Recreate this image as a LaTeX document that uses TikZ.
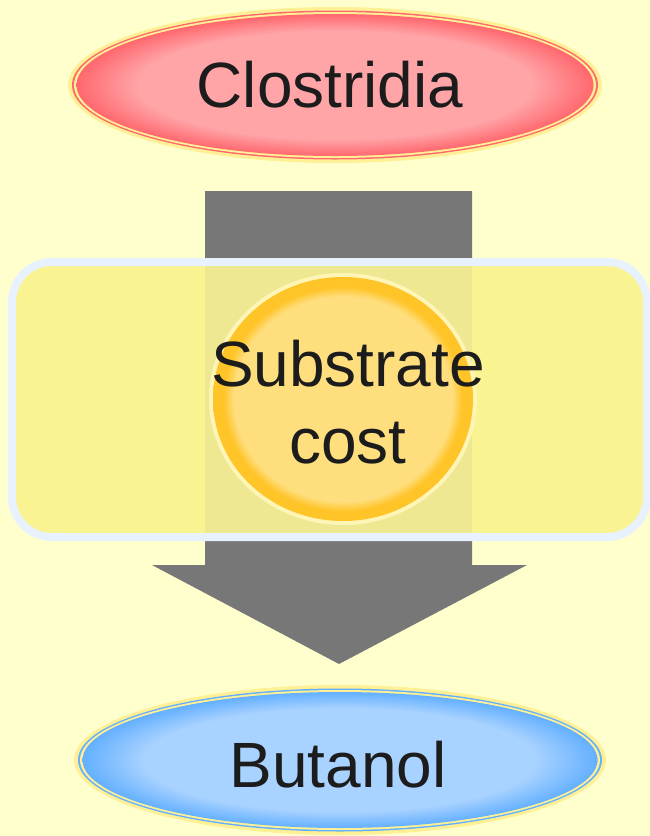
\documentclass[tikz,border=0pt]{standalone}
\usepackage{fontspec}
\setmainfont{Liberation Sans}
\definecolor{bgcream}{RGB}{255,255,206}
\definecolor{arrowgray}{RGB}{119,119,119}
\definecolor{glowyellow}{RGB}{255,240,150}
\definecolor{redrim}{RGB}{255,104,110}
\definecolor{redcore}{RGB}{255,165,168}
\definecolor{bluerim}{RGB}{100,176,255}
\definecolor{bluecore}{RGB}{168,210,255}
\definecolor{boxfill}{RGB}{250,243,145}
\definecolor{boxedge}{RGB}{232,242,255}
\definecolor{shaftfill}{RGB}{238,232,146}
\definecolor{orangering}{RGB}{255,196,40}
\definecolor{orangecore}{RGB}{255,222,125}
\definecolor{inktext}{RGB}{28,28,28}
% glossy fills: flat core, darker rim
\pgfdeclareradialshading{redglass}{\pgfpoint{0bp}{0bp}}{color(0bp)=(redcore); color(19bp)=(redcore); color(25bp)=(redrim); color(50bp)=(redrim)}
\pgfdeclareradialshading{blueglass}{\pgfpoint{0bp}{0bp}}{color(0bp)=(bluecore); color(19bp)=(bluecore); color(25bp)=(bluerim); color(50bp)=(bluerim)}
\pgfdeclareradialshading{orangeglass}{\pgfpoint{0bp}{0bp}}{color(0bp)=(orangecore); color(21bp)=(orangecore); color(23bp)=(orangering); color(50bp)=(orangering)}
\tikzset{
  label text/.style={font=\fontsize{64}{77}\selectfont, text=inktext, align=center, inner sep=0pt},
}
\begin{document}
\begin{tikzpicture}[x=1pt,y=-1pt]
\useasboundingbox (0,0) rectangle (650,836);
\fill[bgcream] (0,0) rectangle (650,836);

% block arrow
\fill[arrowgray] (205,191) -- (472,191) -- (472,565) -- (527,565) -- (339,664)
  -- (152,565) -- (205,565) -- cycle;

% middle panel
\fill[boxfill, draw=boxedge, line width=8pt, rounded corners=40pt] (12,262) rectangle (647,537);
\fill[shaftfill] (205,266) rectangle (472,533);

% top ellipse
\coordinate (top) at (335,85);
\fill[glowyellow] (top) ellipse [x radius=267, y radius=78];
\fill[redrim] (top) ellipse [x radius=263, y radius=74.5];
\fill[glowyellow] (top) ellipse [x radius=261, y radius=73];
\shade[shading=redglass] (top) ellipse [x radius=258.5, y radius=71];
\node[label text] (clos) at (330,85) {Clostridia};

% centre disc
\coordinate (mid) at (343,399);
\fill[glowyellow!70!white] (mid) ellipse [x radius=134, y radius=126];
\shade[shading=orangeglass] (mid) ellipse [x radius=130, y radius=122];
\node[label text] (subs) at (348,402) {Substrate\\cost};

% bottom ellipse
\coordinate (bot) at (340,760);
\fill[glowyellow] (bot) ellipse [x radius=266, y radius=75];
\fill[bluerim] (bot) ellipse [x radius=262, y radius=71.5];
\fill[glowyellow] (bot) ellipse [x radius=260, y radius=70];
\shade[shading=blueglass] (bot) ellipse [x radius=257.5, y radius=68];
\node[label text] (buta) at (338,765) {Butanol};
\end{tikzpicture}
\end{document}
